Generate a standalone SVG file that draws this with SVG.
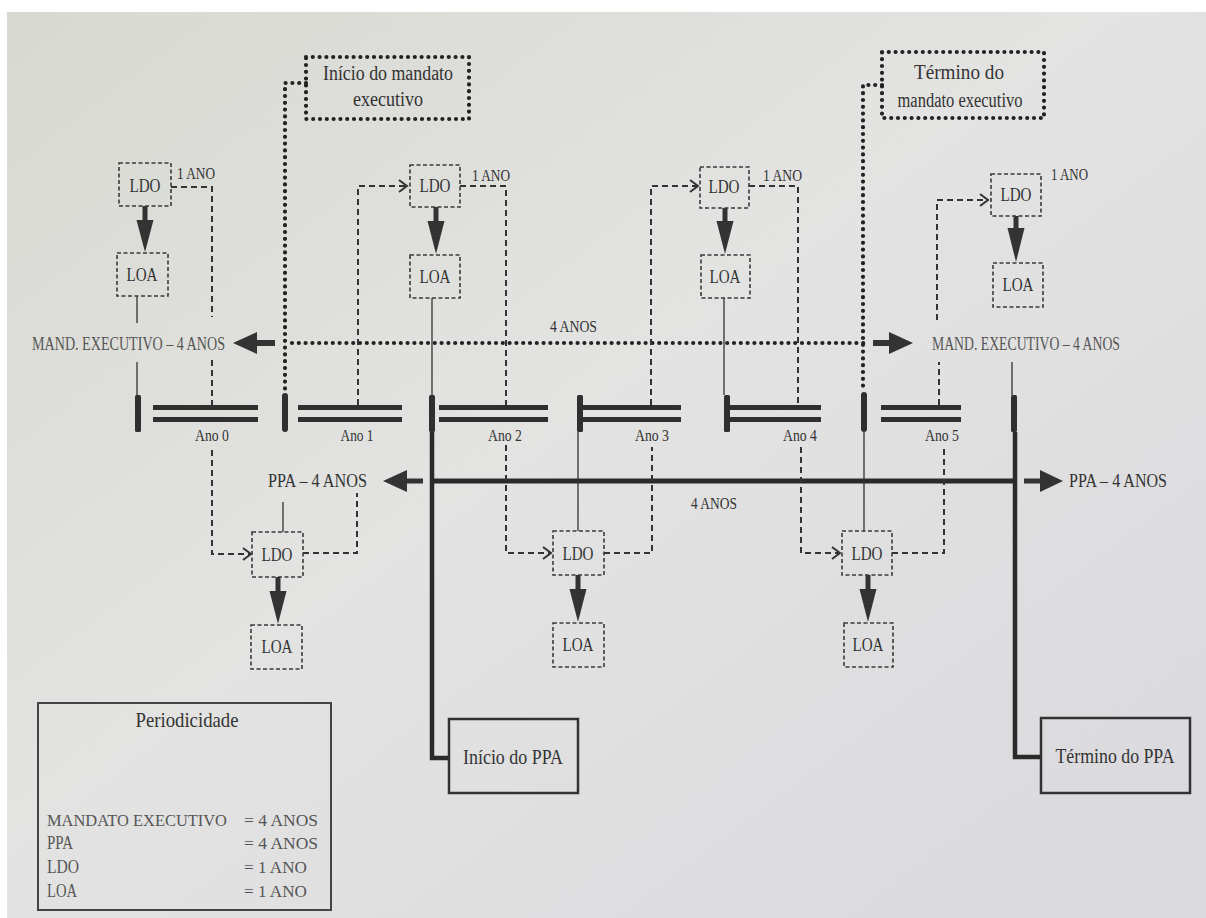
<svg xmlns="http://www.w3.org/2000/svg" width="1206" height="918" viewBox="0 0 1206 918">
<defs>
<linearGradient id="pg" x1="0" y1="0" x2="1" y2="1">
<stop offset="0" stop-color="#d7d9d1"/>
<stop offset="0.45" stop-color="#e3e3e2"/>
<stop offset="1" stop-color="#d9d9de"/>
</linearGradient>
<marker id="chev" markerWidth="12" markerHeight="14" refX="9" refY="7" orient="auto" markerUnits="userSpaceOnUse">
<path d="M1,1 L9,7 L1,13" fill="none" stroke="#333" stroke-width="2"/>
</marker>
<style>
.t{font-family:"Liberation Serif","Times New Roman",serif;fill:#333}
.tl{font-family:"Liberation Serif","Times New Roman",serif;fill:#555}
.dbox{fill:none;stroke:#3a3a3a;stroke-width:1.6;stroke-dasharray:4 2.5}
.dash{fill:none;stroke:#333;stroke-width:2;stroke-dasharray:6 4}
.dot{fill:none;stroke:#222;stroke-width:4.2;stroke-dasharray:0 6.8;stroke-linecap:round}
.thin{fill:none;stroke:#333;stroke-width:1.3}
.thick{fill:none;stroke:#2a2a2a;stroke-width:4.5}
.bar{fill:#2f2f2f}
.ah{fill:#333}
.box{fill:none;stroke:#333;stroke-width:2.5}
</style>
</defs>
<rect x="0" y="0" width="1206" height="918" fill="#ffffff"/>
<rect x="7" y="12" width="1199" height="906" fill="url(#pg)"/>

<g id="connectors">
<path class="dot" d="M306,83 H285 V392"/>
<path class="dot" d="M882,85 H863 V391"/>
<path class="dot" d="M292,343 H866"/>
<rect class="ah" x="254" y="340" width="21" height="6"/>
<path class="ah" d="M233,343 L257,332 L257,354 Z"/>
<rect class="ah" x="873" y="340" width="19" height="6"/>
<path class="ah" d="M913,343 L889,332 L889,354 Z"/>
<path class="thick" d="M432,481 H1015" style="stroke-width:5"/>
<rect class="ah" x="404" y="478.5" width="19" height="5"/>
<path class="ah" d="M383,481 L407,470 L407,492 Z"/>
<rect class="ah" x="1024" y="478.5" width="19" height="5"/>
<path class="ah" d="M1063,481 L1040,470 L1040,492 Z"/>
<path class="thick" d="M432,432 V758 H449"/>
<path class="thick" d="M1015,432 V757 H1041"/>
<path class="thin" d="M137,296 V323 M137,362 V395 M432,298 V395 M724,298 V395 M1012,362 V395 M578,432 V531 M864,432 V531 M283,502 V532"/>
<path class="dash" d="M171,187 H212 V317"/>
<path class="dash" d="M212,360 V405"/>
<path class="dash" d="M358,405 V186 H407" marker-end="url(#chev)"/>
<path class="dash" d="M460,186 H506 V405"/>
<path class="dash" d="M651,405 V186 H698" marker-end="url(#chev)"/>
<path class="dash" d="M749,186 H798 V405"/>
<path class="dash" d="M939,405 V362"/>
<path class="dash" d="M937,320 V200 H988" marker-end="url(#chev)"/>
<path class="dash" d="M212,450 V554 H251" marker-end="url(#chev)"/>
<path class="dash" d="M303,553 H357 V493"/>
<path class="dash" d="M506,445 V553 H551" marker-end="url(#chev)"/>
<path class="dash" d="M604,553 H652 V447"/>
<path class="dash" d="M801,447 V553 H840" marker-end="url(#chev)"/>
<path class="dash" d="M892,553 H944 V447"/>
<rect class="ah" x="142.5" y="206" width="5" height="16"/><path class="ah" d="M136.5,220 L153.5,220 L145,252 Z"/>
<rect class="ah" x="433.5" y="207" width="5" height="16"/><path class="ah" d="M427.5,221 L444.5,221 L436,254 Z"/>
<rect class="ah" x="722.5" y="208" width="5" height="15"/><path class="ah" d="M716.5,221 L733.5,221 L725,254 Z"/>
<rect class="ah" x="1013.5" y="216" width="5" height="14"/><path class="ah" d="M1007.5,228 L1024.5,228 L1016,262 Z"/>
<rect class="ah" x="275.5" y="577" width="5" height="16"/><path class="ah" d="M269.5,591 L286.5,591 L278,624 Z"/>
<rect class="ah" x="575.5" y="575" width="5" height="16"/><path class="ah" d="M569.5,589 L586.5,589 L578,622 Z"/>
<rect class="ah" x="865.5" y="575" width="5" height="16"/><path class="ah" d="M859.5,589 L876.5,589 L868,622 Z"/>
</g>

<g id="label-mand-left"><text class="tl" x="32" y="350" font-size="19" textLength="193" lengthAdjust="spacingAndGlyphs">MAND. EXECUTIVO – 4 ANOS</text></g>
<g id="label-mand-right"><text class="tl" x="932" y="350" font-size="19" textLength="188" lengthAdjust="spacingAndGlyphs">MAND. EXECUTIVO – 4 ANOS</text></g>
<g id="label-4anos-top"><text class="t" x="550" y="332" font-size="17" textLength="47" lengthAdjust="spacingAndGlyphs">4 ANOS</text></g>
<g id="label-ppa-left"><text class="t" x="268" y="487" font-size="19" textLength="99" lengthAdjust="spacingAndGlyphs">PPA – 4 ANOS</text></g>
<g id="label-ppa-right"><text class="t" x="1069" y="487" font-size="19" textLength="98" lengthAdjust="spacingAndGlyphs">PPA – 4 ANOS</text></g>
<g id="label-4anos-bottom"><text class="t" x="691" y="509" font-size="17" textLength="46" lengthAdjust="spacingAndGlyphs">4 ANOS</text></g>

<g id="ano0"><rect class="bar" x="135" y="395" width="6" height="37" rx="1.5"/><rect class="bar" x="153" y="405" width="105" height="5"/><rect class="bar" x="153" y="417" width="105" height="5"/><text class="t" x="212" y="441" font-size="16.5" text-anchor="middle" textLength="34" lengthAdjust="spacingAndGlyphs">Ano 0</text></g>
<g id="ano1"><rect class="bar" x="282" y="393" width="6" height="39" rx="3"/><rect class="bar" x="298" y="405" width="104" height="5"/><rect class="bar" x="298" y="417" width="104" height="5"/><text class="t" x="357" y="441" font-size="16.5" text-anchor="middle" textLength="33" lengthAdjust="spacingAndGlyphs">Ano 1</text></g>
<g id="ano2"><rect class="bar" x="429" y="395" width="6" height="37" rx="1.5"/><rect class="bar" x="439" y="405" width="109" height="5"/><rect class="bar" x="439" y="417" width="109" height="5"/><text class="t" x="505" y="441" font-size="16.5" text-anchor="middle" textLength="34" lengthAdjust="spacingAndGlyphs">Ano 2</text></g>
<g id="ano3"><rect class="bar" x="577" y="395" width="6" height="37" rx="1.5"/><rect class="bar" x="583" y="405" width="98" height="5"/><rect class="bar" x="583" y="417" width="98" height="5"/><text class="t" x="652" y="441" font-size="16.5" text-anchor="middle" textLength="34" lengthAdjust="spacingAndGlyphs">Ano 3</text></g>
<g id="ano4"><rect class="bar" x="724" y="395" width="6" height="37" rx="1.5"/><rect class="bar" x="730" y="405" width="91" height="5"/><rect class="bar" x="730" y="417" width="91" height="5"/><text class="t" x="800" y="441" font-size="16.5" text-anchor="middle" textLength="34" lengthAdjust="spacingAndGlyphs">Ano 4</text></g>
<g id="ano5"><rect class="bar" x="861" y="392" width="6" height="40" rx="3"/><rect class="bar" x="881" y="405" width="80" height="5"/><rect class="bar" x="881" y="417" width="80" height="5"/><text class="t" x="942" y="441" font-size="16.5" text-anchor="middle" textLength="34" lengthAdjust="spacingAndGlyphs">Ano 5</text></g>
<g id="fim"><rect class="bar" x="1011" y="395" width="6" height="37" rx="1.5"/></g>

<g id="ldo-top-0"><rect class="dbox" x="119" y="163" width="52" height="43"/><text class="t" x="145" y="192" font-size="18" text-anchor="middle" textLength="31" lengthAdjust="spacingAndGlyphs">LDO</text><text class="t" x="177" y="179" font-size="16" textLength="38" lengthAdjust="spacingAndGlyphs">1 ANO</text></g>
<g id="loa-top-0"><rect class="dbox" x="117" y="253" width="51" height="43"/><text class="t" x="142" y="281" font-size="18" text-anchor="middle" textLength="31" lengthAdjust="spacingAndGlyphs">LOA</text></g>
<g id="ldo-top-1"><rect class="dbox" x="410" y="165" width="50" height="42"/><text class="t" x="435" y="192" font-size="18" text-anchor="middle" textLength="31" lengthAdjust="spacingAndGlyphs">LDO</text><text class="t" x="472" y="181" font-size="16" textLength="38" lengthAdjust="spacingAndGlyphs">1 ANO</text></g>
<g id="loa-top-1"><rect class="dbox" x="410" y="255" width="50" height="43"/><text class="t" x="435" y="283" font-size="18" text-anchor="middle" textLength="31" lengthAdjust="spacingAndGlyphs">LOA</text></g>
<g id="ldo-top-2"><rect class="dbox" x="700" y="167" width="49" height="41"/><text class="t" x="724" y="193" font-size="18" text-anchor="middle" textLength="31" lengthAdjust="spacingAndGlyphs">LDO</text><text class="t" x="763" y="181" font-size="16" textLength="39" lengthAdjust="spacingAndGlyphs">1 ANO</text></g>
<g id="loa-top-2"><rect class="dbox" x="701" y="255" width="49" height="43"/><text class="t" x="725" y="283" font-size="18" text-anchor="middle" textLength="31" lengthAdjust="spacingAndGlyphs">LOA</text></g>
<g id="ldo-top-3"><rect class="dbox" x="991" y="174" width="50" height="42"/><text class="t" x="1016" y="201" font-size="18" text-anchor="middle" textLength="31" lengthAdjust="spacingAndGlyphs">LDO</text><text class="t" x="1051" y="180" font-size="16" textLength="37" lengthAdjust="spacingAndGlyphs">1 ANO</text></g>
<g id="loa-top-3"><rect class="dbox" x="993" y="263" width="50" height="44"/><text class="t" x="1018" y="291" font-size="18" text-anchor="middle" textLength="31" lengthAdjust="spacingAndGlyphs">LOA</text></g>

<g id="ldo-bot-0"><rect class="dbox" x="252" y="532" width="51" height="45"/><text class="t" x="277" y="561" font-size="18" text-anchor="middle" textLength="31" lengthAdjust="spacingAndGlyphs">LDO</text></g>
<g id="loa-bot-0"><rect class="dbox" x="251" y="625" width="51" height="44"/><text class="t" x="277" y="653" font-size="18" text-anchor="middle" textLength="31" lengthAdjust="spacingAndGlyphs">LOA</text></g>
<g id="ldo-bot-1"><rect class="dbox" x="553" y="531" width="51" height="44"/><text class="t" x="578" y="560" font-size="18" text-anchor="middle" textLength="31" lengthAdjust="spacingAndGlyphs">LDO</text></g>
<g id="loa-bot-1"><rect class="dbox" x="553" y="623" width="51" height="44"/><text class="t" x="578" y="651" font-size="18" text-anchor="middle" textLength="31" lengthAdjust="spacingAndGlyphs">LOA</text></g>
<g id="ldo-bot-2"><rect class="dbox" x="842" y="531" width="50" height="44"/><text class="t" x="867" y="560" font-size="18" text-anchor="middle" textLength="31" lengthAdjust="spacingAndGlyphs">LDO</text></g>
<g id="loa-bot-2"><rect class="dbox" x="844" y="623" width="49" height="44"/><text class="t" x="868" y="651" font-size="18" text-anchor="middle" textLength="31" lengthAdjust="spacingAndGlyphs">LOA</text></g>

<g id="inicio-mandato"><path class="dot" d="M306,57 H469 V119 H306 Z"/><text class="t" x="388" y="80" font-size="20" text-anchor="middle" textLength="130" lengthAdjust="spacingAndGlyphs">Início do mandato</text><text class="t" x="388" y="106" font-size="20" text-anchor="middle" textLength="70" lengthAdjust="spacingAndGlyphs">executivo</text></g>
<g id="termino-mandato"><path class="dot" d="M882,52 H1044 V118 H882 Z"/><text class="t" x="959" y="79" font-size="20" text-anchor="middle" textLength="90" lengthAdjust="spacingAndGlyphs">Término do</text><text class="t" x="960" y="107" font-size="20" text-anchor="middle" textLength="125" lengthAdjust="spacingAndGlyphs">mandato executivo</text></g>

<g id="inicio-ppa"><rect class="box" x="449" y="719" width="129" height="74"/><text class="t" x="513" y="764" font-size="21" text-anchor="middle" textLength="100" lengthAdjust="spacingAndGlyphs">Início do PPA</text></g>
<g id="termino-ppa"><rect class="box" x="1041" y="718" width="149" height="75"/><text class="t" x="1115" y="763" font-size="21" text-anchor="middle" textLength="119" lengthAdjust="spacingAndGlyphs">Término do PPA</text></g>

<g id="legenda">
<rect x="38" y="703" width="293" height="207" fill="none" stroke="#444" stroke-width="2"/>
<text class="t" x="187" y="727" font-size="21" text-anchor="middle" textLength="103" lengthAdjust="spacingAndGlyphs">Periodicidade</text>
<text class="tl" x="47" y="826" font-size="16.5" textLength="180" lengthAdjust="spacingAndGlyphs">MANDATO EXECUTIVO</text>
<text class="tl" x="47" y="849" font-size="18" textLength="26" lengthAdjust="spacingAndGlyphs">PPA</text>
<text class="tl" x="47" y="873" font-size="18" textLength="32" lengthAdjust="spacingAndGlyphs">LDO</text>
<text class="tl" x="47" y="897" font-size="18" textLength="30" lengthAdjust="spacingAndGlyphs">LOA</text>
<text class="tl" x="244" y="826" font-size="17" textLength="74" lengthAdjust="spacingAndGlyphs">= 4 ANOS</text>
<text class="tl" x="244" y="849" font-size="17" textLength="74" lengthAdjust="spacingAndGlyphs">= 4 ANOS</text>
<text class="tl" x="244" y="873" font-size="17" textLength="63" lengthAdjust="spacingAndGlyphs">= 1 ANO</text>
<text class="tl" x="244" y="897" font-size="17" textLength="63" lengthAdjust="spacingAndGlyphs">= 1 ANO</text>
</g>
</svg>
